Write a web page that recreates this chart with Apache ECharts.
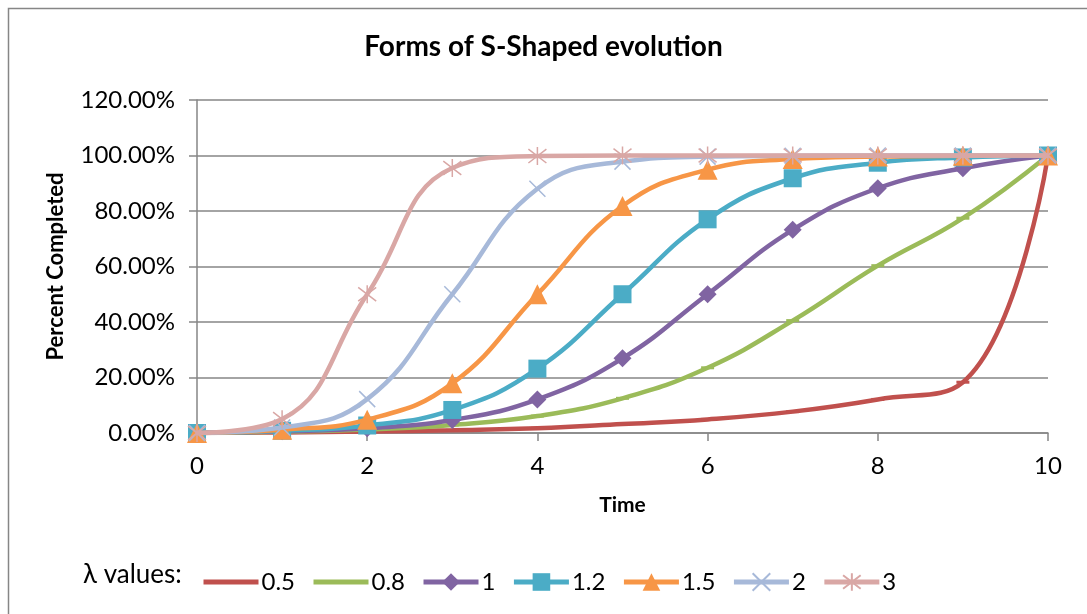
<!DOCTYPE html>
<html>
<head>
<meta charset="utf-8">
<script src="https://cdn.jsdelivr.net/npm/echarts@6/dist/echarts.min.js"></script>
<style>
html,body{margin:0;padding:0;background:#fff;}
#chart{width:1087px;height:614px;}
</style>
</head>
<body>
<div id="chart"></div>
<script>
// ---- data ----
const times = [0, 1, 2, 3, 4, 5, 6, 7, 8, 9, 10];
const seriesNames = ['0.5', '0.8', '1', '1.2', '1.5', '2', '3'];
const s05 = [0, 0.2, 0.5, 1.0, 1.7, 3.2, 4.9, 7.7, 12.1, 18.3, 100];
const s08 = [0, 0.5, 1.3, 2.9, 6.1, 12.5, 23.5, 40.5, 60.3, 77.4, 100];
const s1  = [0, 0.6, 1.7, 4.7, 12.1, 26.9, 50, 73.2, 88.2, 95.4, 100];
const s12 = [0, 0.8, 2.7, 8.3, 23.2, 50, 77, 91.8, 97.4, 99.3, 100];
const s15 = [0, 1.2, 4.8, 17.9, 50, 81.8, 94.9, 98.7, 99.6, 99.9, 100];
const s2  = [0, 2.0, 12.2, 50, 88, 97.8, 99.6, 99.9, 100, 100, 100];
const s3  = [0, 5.0, 50, 95.5, 99.8, 100, 100, 100, 100, 100, 100];
const yTicks = [0, 20, 40, 60, 80, 100, 120];

const colors = ['#C0504D', '#9BBB59', '#8064A2', '#4BACC6', '#F79646', '#A7B9D9', '#D9A7A5'];
const FONT = 'Lato';

const allData = [s05, s08, s1, s12, s15, s2, s3];
const symbols = [
  {symbol: 'rect', size: [13, 3], border: 0},
  {symbol: 'rect', size: [13, 3], border: 0},
  {symbol: 'diamond', size: 18, border: 0},
  {symbol: 'rect', size: 18, border: 0},
  {symbol: 'triangle', size: 20, border: 0},
  {symbol: 'path://M0,0L10,10M10,0L0,10', size: 16, border: 1.5},
  {symbol: 'path://M0,0L10,10M10,0L0,10M5,-1.5L5,11.5', size: 18, border: 1.5}
];

const series = seriesNames.map((name, i) => ({
  name: name,
  type: 'line',
  smooth: 0.45,
  data: times.map((t, j) => [t, allData[i][j]]),
  symbol: symbols[i].symbol,
  symbolSize: symbols[i].size,
  showAllSymbol: true,
  lineStyle: {color: colors[i], width: 4.5},
  itemStyle: {color: colors[i], borderColor: colors[i], borderWidth: symbols[i].border, opacity: 1},
  emphasis: {disabled: true},
  z: 2 + i
}));

const legendData = seriesNames.map((name, i) =>
  i < 2 ? {name: name, itemStyle: {opacity: 0}} : {name: name}
);

const chart = echarts.init(document.getElementById('chart'), null, {renderer: 'canvas'});
chart.setOption({
  animation: false,
  backgroundColor: '#fff',
  title: {
    text: 'Forms of S-Shaped evolution',
    left: 'center',
    top: 28,
    textStyle: {fontFamily: FONT, fontWeight: 'bold', fontSize: 28, color: '#000'}
  },
  grid: {left: 197, right: 39, top: 100, bottom: 181, containLabel: false},
  xAxis: {
    type: 'value',
    min: 0, max: 10, interval: 2,
    name: 'Time',
    nameLocation: 'middle',
    nameGap: 62,
    nameTextStyle: {fontFamily: FONT, fontWeight: 'bold', fontSize: 21, color: '#000'},
    axisLine: {show: true, lineStyle: {color: '#868686', width: 1.5}},
    axisTick: {show: true, length: 8, lineStyle: {color: '#868686', width: 1.5}},
    axisLabel: {fontFamily: FONT, fontSize: 24, color: '#000', margin: 21},
    splitLine: {show: false}
  },
  yAxis: {
    type: 'value',
    min: 0, max: 120, interval: 20,
    name: 'Percent Completed',
    nameLocation: 'middle',
    nameGap: 130,
    nameRotate: 90,
    nameTextStyle: {fontFamily: FONT, fontWeight: 'bold', fontSize: 22, color: '#000'},
    axisLine: {show: true, lineStyle: {color: '#868686', width: 1.5}},
    axisTick: {show: true, length: 8, lineStyle: {color: '#868686', width: 1.5}},
    axisLabel: {
      fontFamily: FONT, fontSize: 24, color: '#000', margin: 22,
      formatter: v => yTicks.indexOf(v) >= 0 ? v.toFixed(2) + '%' : ''
    },
    splitLine: {show: true, lineStyle: {color: '#868686', width: 1.5}}
  },
  legend: {
    data: legendData,
    left: 196,
    top: 565,
    itemWidth: 55,
    itemHeight: 22,
    itemGap: 16,
    lineStyle: {width: 5},
    textStyle: {fontFamily: FONT, fontSize: 24, color: '#000', padding: [0, 0, 0, -2]},
    selectedMode: false
  },
  graphic: [
    {
      type: 'rect',
      shape: {x: 8.5, y: 8.5, width: 1100, height: 640},
      style: {fill: 'none', stroke: '#868686', lineWidth: 1.5},
      silent: true
    },
    {
      type: 'text',
      left: 83,
      top: 562,
      style: {text: 'λ values:', fontFamily: FONT, fontSize: 26, fill: '#000'}
    }
  ],
  series: series
});
</script>
</body>
</html>
